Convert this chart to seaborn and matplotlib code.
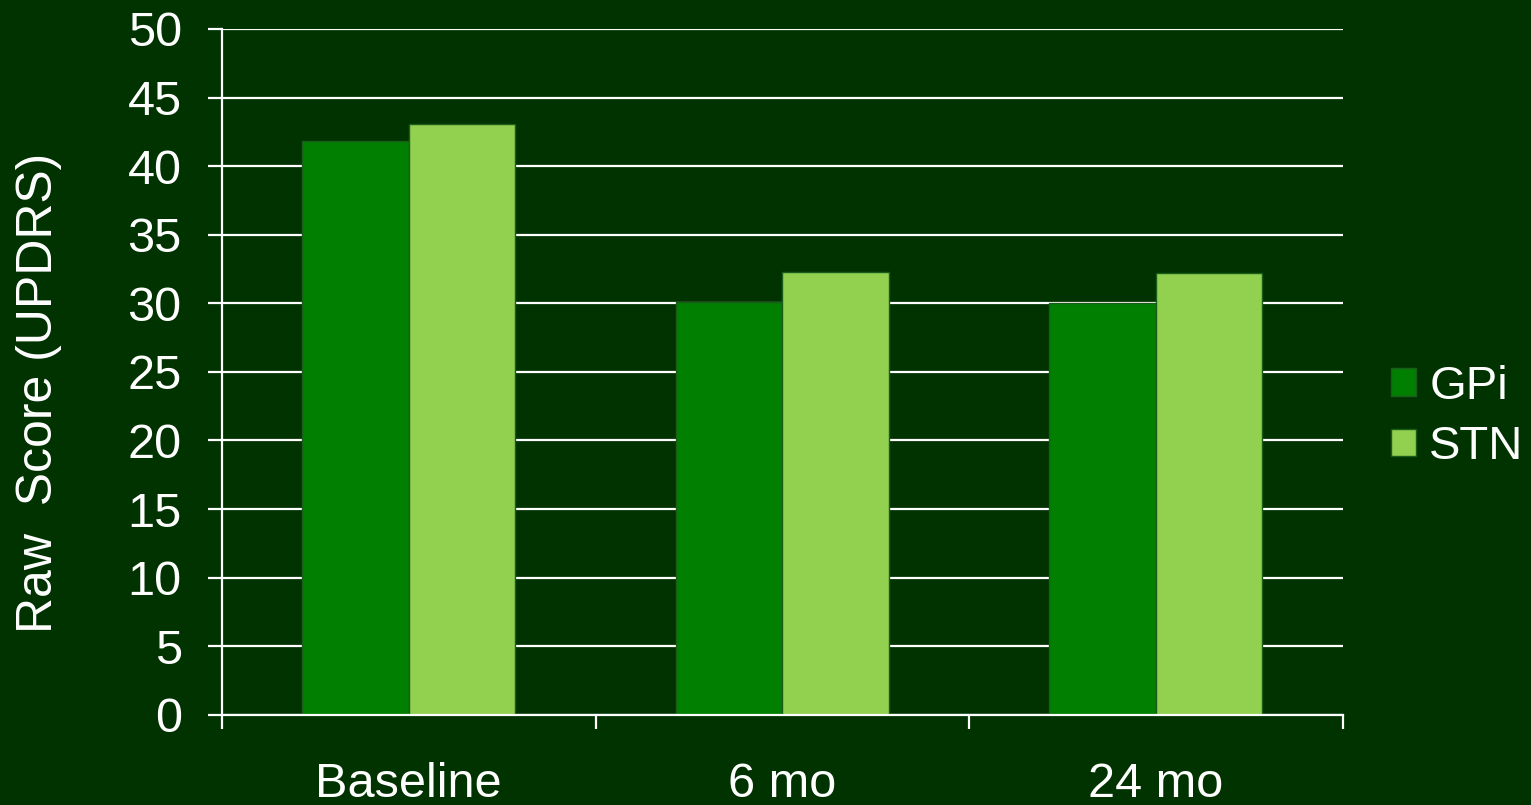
import pandas as pd
import matplotlib.pyplot as plt
import seaborn as sns

# Chart data
timepoints = ['Baseline', '6 mo', '24 mo']
gpi_scores = [41.8, 30.1, 30.0]
stn_scores = [43.1, 32.3, 32.2]

df = pd.DataFrame({
    'Time': timepoints * 2,
    'Score': gpi_scores + stn_scores,
    'Target': ['GPi'] * 3 + ['STN'] * 3,
})

bg = '#003300'
palette = {'GPi': '#007f00', 'STN': '#92d050'}

sns.set_style("dark")
plt.rcParams['font.family'] = ['Liberation Sans', 'DejaVu Sans']

fig = plt.figure(figsize=(15.31, 8.05), dpi=100, facecolor=bg)
ax = fig.add_axes([0.145, 0.112, 0.732, 0.852])
ax.set_facecolor(bg)

sns.barplot(data=df, x='Time', y='Score', hue='Target', palette=palette,
            width=0.57, saturation=1, ax=ax, linewidth=1,
            edgecolor='#1a5c1a', legend=True)

ax.set_ylim(0, 50)
ax.set_xlim(-0.5, 2.5)
ax.set_yticks(range(0, 51, 5))
ax.set_axisbelow(True)
ax.yaxis.grid(True, color='white', linewidth=1.6)
ax.xaxis.grid(False)

for side in ['top', 'right']:
    ax.spines[side].set_visible(False)
for side in ['left', 'bottom']:
    ax.spines[side].set_color('white')
    ax.spines[side].set_linewidth(1.6)

ax.tick_params(axis='y', colors='white', labelsize=35, length=10, width=1.6,
               direction='out', left=True, pad=19)
ax.tick_params(axis='x', which='major', colors='white', labelsize=35,
               length=0, pad=34)
ax.set_xticks([-0.5, 0.5, 1.5, 2.5], minor=True)
ax.tick_params(axis='x', which='minor', color='white', length=10, width=1.6,
               bottom=True)

ax.set_xlabel('')
ax.set_ylabel('Raw  Score (UPDRS)', color='white', fontsize=36)
ax.yaxis.set_label_coords(-0.143, 0.47)

handles, labels = ax.get_legend_handles_labels()
leg = ax.legend(handles, labels, loc='center left',
                bbox_to_anchor=(1391 / 1531, 1 - 417 / 805),
                bbox_transform=fig.transFigure, borderpad=0, borderaxespad=0,
                frameon=False, fontsize=34, handlelength=0.53, handleheight=0.53,
                handletextpad=0.28, labelspacing=0.35)
for t in leg.get_texts():
    t.set_color('white')

fig.savefig('out.png', dpi=100, facecolor=bg)
